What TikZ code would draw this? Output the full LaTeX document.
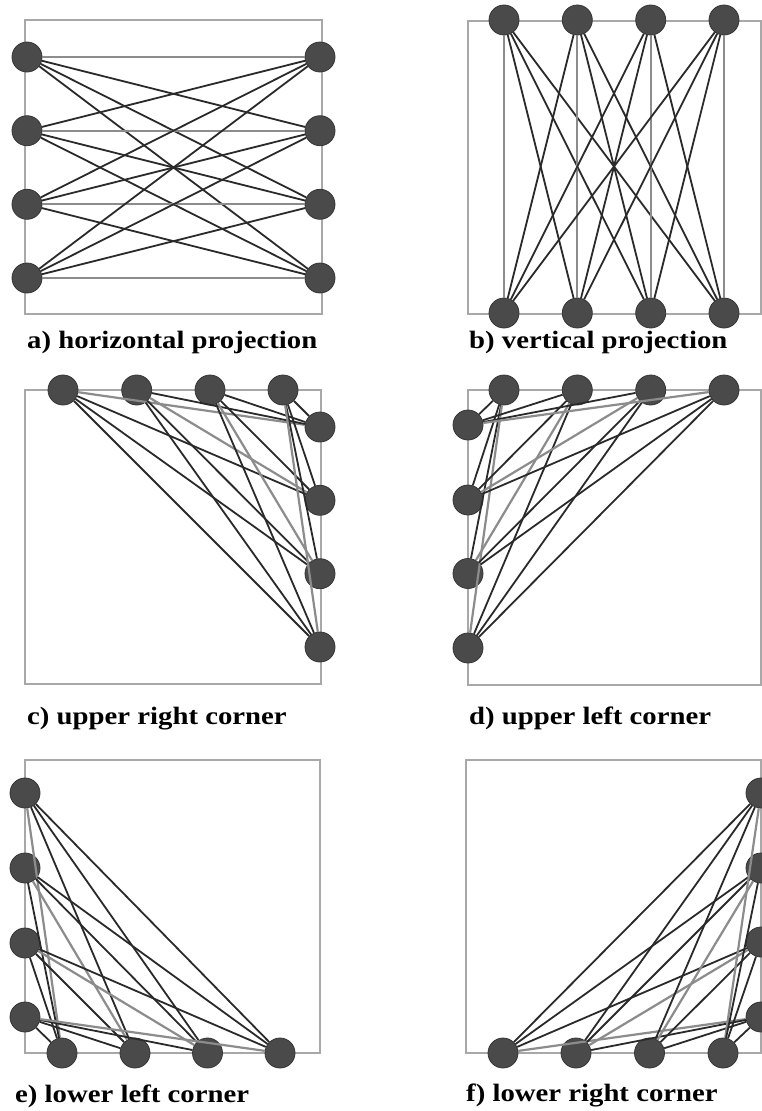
\documentclass[tikz,border=0pt]{standalone}
\usepackage{fontspec}
\setmainfont{Liberation Serif}
\newfontfamily\capfont[FakeStretch=1.15]{Liberation Serif}
\definecolor{boxgray}{HTML}{A8A8A8}
\definecolor{edgedark}{HTML}{2A2A2A}
\definecolor{matchgray}{HTML}{8C8C8C}
\definecolor{nodefill}{HTML}{4A4A4A}
\definecolor{nodeedge}{HTML}{353535}
\tikzset{
  panelbox/.style={draw=boxgray, line width=2pt},
  edge/.style={draw=edgedark, line width=1.8pt},
  match/.style={draw=matchgray, line width=2.2pt},
  vtx/.style={circle, fill=nodefill, draw=nodeedge, line width=0.8pt, minimum size=30pt, inner sep=0pt},
  captext/.style={anchor=base west, inner sep=0pt, font=\capfont\bfseries\fontsize{25}{30}\selectfont}
}
\begin{document}
\begin{tikzpicture}[x=1pt,y=-1pt]
\useasboundingbox (0,0) rectangle (762,1111);
\fill[white] (0,0) rectangle (762,1111);
% ---------- boxes ----------
\draw[panelbox] (25,20) rectangle (322,314);
\draw[panelbox] (468,21) rectangle (761,314);
\draw[panelbox] (25,390) rectangle (321,684);
\draw[panelbox] (468,390) rectangle (761,685);
\draw[panelbox] (25,760) rectangle (320,1053);
\draw[panelbox] (466,760) rectangle (761,1053);
% ---------- nodes ----------
\foreach \y [count=\k] in {57,130.7,204.3,278}{
  \node[vtx] (aL\k) at (27,\y) {};
  \node[vtx] (aR\k) at (320,\y) {};
}
\foreach \x [count=\k] in {504,577.3,650.7,724}{
  \node[vtx] (bT\k) at (\x,20) {};
  \node[vtx] (bB\k) at (\x,313) {};
}
\foreach \x [count=\k] in {63,136.7,210,283}{
  \node[vtx] (cT\k) at (\x,390) {};
}
\foreach \y [count=\k] in {427,500.3,573.7,647}{
  \node[vtx] (cR\k) at (320,\y) {};
}
\foreach \x [count=\k] in {504,577.3,650.7,724}{
  \node[vtx] (dT\k) at (\x,390) {};
}
\foreach \y [count=\k] in {425,500,573.5,648}{
  \node[vtx] (dL\k) at (468,\y) {};
}
\foreach \y [count=\k] in {793,868,943,1017}{
  \node[vtx] (eL\k) at (25,\y) {};
}
\foreach \x [count=\k] in {62,135,207.5,280}{
  \node[vtx] (eB\k) at (\x,1053) {};
}
\foreach \y [count=\k] in {793,868,942,1017}{
  \node[vtx] (fR\k) at (761,\y) {};
}
\foreach \x [count=\k] in {503,576,649.5,723}{
  \node[vtx] (fB\k) at (\x,1053) {};
}
% ---------- edges ----------
\foreach \i in {1,...,4}{\foreach \j in {1,...,4}{
  \ifnum\i=\j
    \draw[match] (aL\i) -- (aR\j);
    \draw[match] (bT\i) -- (bB\j);
    \draw[match] (cT\i) -- (cR\j);
  \else
    \draw[edge] (aL\i) -- (aR\j);
    \draw[edge] (bT\i) -- (bB\j);
    \draw[edge] (cT\i) -- (cR\j);
  \fi
  \pgfmathtruncatemacro\s{\i+\j}
  \ifnum\s=5
    \draw[match] (dT\i) -- (dL\j);
    \draw[match] (fB\i) -- (fR\j);
  \else
    \draw[edge] (dT\i) -- (dL\j);
    \draw[edge] (fB\i) -- (fR\j);
  \fi
  \ifnum\i=\j
    \draw[match] (eB\i) -- (eL\j);
  \else
    \draw[edge] (eB\i) -- (eL\j);
  \fi
}}
% ---------- captions ----------
\node[captext] (capa) at (27,348) {a) horizontal projection};
\node[captext] (capb) at (469,348) {b) vertical projection};
\node[captext] (capc) at (27,724) {c) upper right corner};
\node[captext] (capd) at (469,724) {d) upper left corner};
\node[captext] (cape) at (15,1102) {e) lower left corner};
\node[captext] (capf) at (466,1101) {f) lower right corner};
\end{tikzpicture}
\end{document}
